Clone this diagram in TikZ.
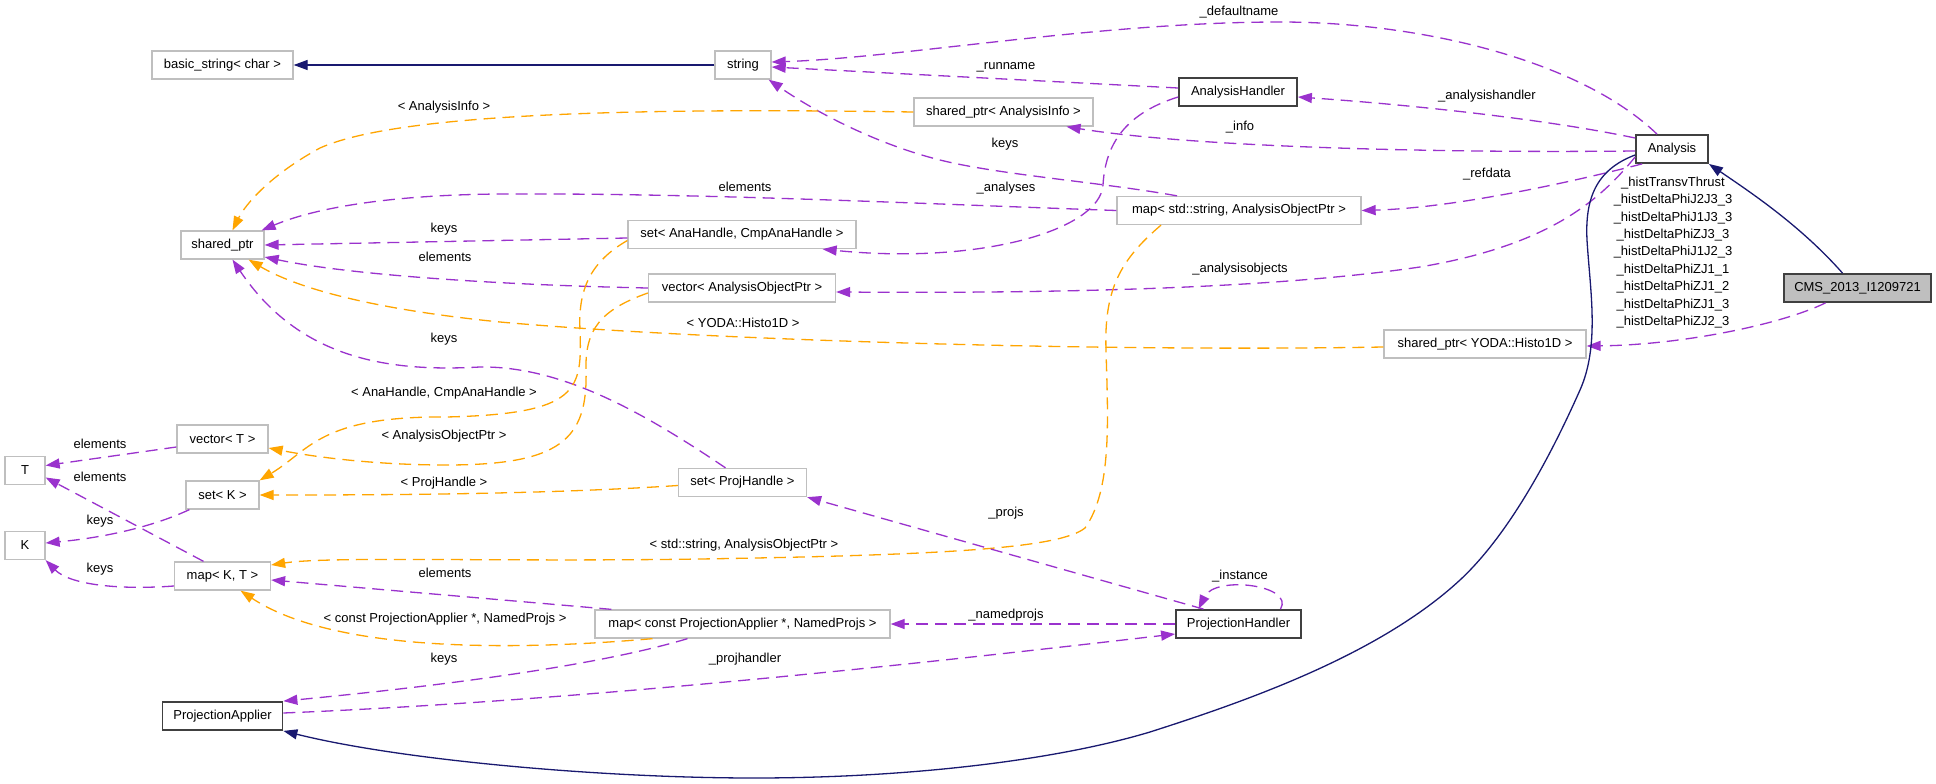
\documentclass[tikz,border=0pt]{standalone}
\usepackage{fontspec}
\setmainfont{Liberation Sans}
\usetikzlibrary{arrows.meta}
\definecolor{purp}{HTML}{9A32CD}
\definecolor{orng}{HTML}{FFA500}
\definecolor{navyb}{HTML}{191970}
\definecolor{lgray}{HTML}{BFBFBF}
\definecolor{dgray}{HTML}{404040}
\begin{document}
\begin{tikzpicture}[x=1pt,y=-1pt,
  box/.style={draw=lgray, line width=1.3pt, minimum height=28pt, inner sep=0pt, fill=white, font=\fontsize{13}{16}\selectfont},
  bbox/.style={box, draw=dgray, line width=1.8pt},
  useedge/.style={draw=purp, line width=1.3pt, dash pattern=on 12pt off 7pt, -{Triangle[length=14pt,width=10pt]}},
  tmpledge/.style={useedge, draw=orng},
  inhedge/.style={draw=navyb, line width=1.3pt, -{Triangle[length=14pt,width=10pt]}},
  lbl/.style={font=\fontsize{13}{17.4}\selectfont, inner sep=0pt, align=center}
]
\fill[white] (0,0) rectangle (1936,784);
\useasboundingbox (0,0) rectangle (1936,784);

% nodes
\node[box, minimum width=141pt] (bstr) at (222.5,65) {basic\_string< char >};
\node[box, minimum width=56pt] (str) at (743,65) {string};
\node[bbox, minimum width=118pt] (ah) at (1238,92) {AnalysisHandler};
\node[box, minimum width=179pt] (spai) at (1003.5,112) {shared\_ptr< AnalysisInfo >};
\node[bbox, minimum width=72pt] (ana) at (1672,149) {Analysis};
\node[box, minimum width=83pt] (sp) at (222.5,245) {shared\_ptr};
\node[box, minimum width=244pt] (mapsa) at (1239,210.5) {map< std::string, AnalysisObjectPtr >};
\node[box, minimum width=228pt] (setana) at (742,234.5) {set< AnaHandle, CmpAnaHandle >};
\node[box, minimum width=187pt] (vecaop) at (742,288) {vector< AnalysisObjectPtr >};
\node[bbox, fill=lgray, minimum width=147pt] (cms) at (1857.5,288) {CMS\_2013\_I1209721};
\node[box, minimum width=202pt] (spyoda) at (1485,344) {shared\_ptr< YODA::Histo1D >};
\node[box, minimum width=91pt] (vect) at (222.5,439) {vector< T >};
\node[box, minimum width=40pt] (t) at (25,470.5) {T};
\node[box, minimum width=73pt] (setk) at (222.5,495) {set< K >};
\node[box, minimum width=128pt] (setph) at (742.5,482.5) {set< ProjHandle >};
\node[box, minimum width=40pt] (k) at (25,545.5) {K};
\node[box, minimum width=96pt] (mapkt) at (222.5,576) {map< K, T >};
\node[box, minimum width=295pt] (mappa) at (742.5,624) {map< const ProjectionApplier *, NamedProjs >};
\node[bbox, minimum width=125pt] (ph) at (1238.5,624) {ProjectionHandler};
\node[bbox, minimum width=120pt] (pa) at (222.5,716) {ProjectionApplier};

% edges
\draw[inhedge] (str.west) -- (bstr.east);
\draw[useedge] ([xshift=-15pt]ana.north) .. controls (1580,60) and (1420,22) .. (1280,22) .. controls (1100,22) and (900,58) .. ([yshift=3pt]str.east);
\draw[useedge] ([yshift=4pt]ah.west) -- ([yshift=-2pt]str.east);
\draw[useedge] ([yshift=11pt]ana.west) .. controls (1540,118) and (1400,104) .. ([yshift=-5pt]ah.east);
\draw[useedge] ([yshift=-2pt]ana.west) .. controls (1450,153) and (1200,148) .. ([xshift=63pt]spai.south);
\draw[useedge] ([xshift=7pt]ana.south west) .. controls (1560,185) and (1450,208) .. (mapsa.east);
\draw[useedge] ([yshift=-8pt]ana.west) .. controls (1600,200) and (1550,245) .. (1420,267) .. controls (1250,292) and (1000,293) .. ([yshift=-4pt]vecaop.east);
\draw[inhedge] ([xshift=-15pt]cms.north) .. controls (1800,225) and (1750,192) .. (ana.south east);
\draw[useedge] ([xshift=-32pt]cms.south) .. controls (1780,325) and (1680,345) .. ([yshift=-2pt]spyoda.east);
\draw[inhedge] ([yshift=-6pt]ana.west) .. controls (1595,170) and (1585,200) .. (1587,240) .. controls (1590,290) and (1600,345) .. (1580,390) .. controls (1560,435) and (1516,528) .. (1460,580) .. controls (1380,654) and (1250,700) .. (1150,732) .. controls (1050,762) and (900,778) .. (754,778) .. controls (600,778) and (400,760) .. (pa.south east);
\draw[useedge] ([xshift=-62pt]mapsa.north) .. controls (1100,182) and (1000,175) .. (940,160) .. controls (880,145) and (820,115) .. ([xshift=-3pt]str.south east);
\draw[useedge] (mapsa.west) .. controls (900,203) and (700,193) .. (500,194) .. controls (380,195) and (310,210) .. ([xshift=-3pt]sp.north east);
\draw[useedge] ([yshift=-5pt]ah.west) .. controls (1120,115) and (1105,150) .. (1103,185) .. controls (1100,230) and (980,265) .. ([xshift=-34pt]setana.south east);
\draw[tmpledge] (spai.west) .. controls (650,108) and (400,112) .. (320,148) .. controls (270,175) and (245,205) .. ([xshift=10pt]sp.north);
\draw[useedge] ([yshift=-3.5pt]setana.west) -- (sp.east);
\draw[useedge] (vecaop.west) .. controls (500,285) and (350,275) .. ([yshift=-12pt]sp.east);
\draw[useedge] ([xshift=-17pt]setph.north) .. controls (640,410) and (560,366) .. (480,367) .. controls (390,372) and (300,360) .. ([xshift=10pt]sp.south);
\draw[tmpledge] ([yshift=-3pt]spyoda.west) .. controls (1100,352) and (700,340) .. (500,322) .. controls (380,310) and (300,290) .. ([xshift=-16pt]sp.south east);
\draw[tmpledge] ([yshift=-6pt]setana.west) .. controls (590,262) and (578,290) .. (580,330) .. controls (582,390) and (580,414) .. (446,417) .. controls (320,416) and (310,450) .. (setk.north east);
\draw[tmpledge] ([yshift=-5pt]vecaop.west) .. controls (600,310) and (585,330) .. (586,370) .. controls (588,440) and (560,465) .. (446,465) .. controls (380,465) and (320,458) .. ([yshift=-9pt]vect.east);
\draw[tmpledge] ([yshift=-3pt]setph.west) .. controls (550,494) and (400,495) .. (setk.east);
\draw[useedge] ([yshift=-8pt]vect.west) -- ([yshift=5pt]t.east);
\draw[useedge] ([xshift=-19pt]mapkt.north) -- ([yshift=-7pt]t.east);
\draw[useedge] ([xshift=4pt]setk.south west) .. controls (150,528) and (100,538) .. ([yshift=2.5pt]k.east);
\draw[useedge] ([yshift=-10pt]mapkt.west) .. controls (120,590) and (70,585) .. (k.south east);
\draw[tmpledge] ([xshift=-78pt]mapsa.south) .. controls (1120,260) and (1104,290) .. (1106,350) .. controls (1108,420) and (1112,490) .. (1085,528) .. controls (1060,548) and (950,555) .. (700,559) .. controls (500,562) and (330,556) .. ([yshift=11pt]mapkt.east);
\draw[useedge] ([xshift=17pt]mappa.north west) -- ([yshift=-4pt]mapkt.east);
\draw[tmpledge] ([xshift=-90pt]mappa.south) .. controls (500,652) and (330,650) .. ([xshift=18pt]mapkt.south);
\draw[useedge] ([xshift=-55pt]mappa.south) .. controls (600,665) and (450,685) .. (pa.north east);
\draw[useedge] ([yshift=3pt]pa.east) .. controls (600,700) and (950,660) .. ([yshift=-10pt]ph.west);
\draw[useedge] (ph.west) -- (mappa.east);
\draw[useedge] ([xshift=-35pt]ph.north) -- (setph.south east);
\draw[useedge] ([xshift=42pt]ph.north) .. controls (1295,585) and (1215,575) .. ([xshift=-40pt]ph.north);

% labels
\node[lbl] (l1) at (1239,12) {\_defaultname};
\node[lbl] (l2) at (1006,67) {\_runname};
\node[lbl] (l3) at (1487,96) {\_analysishandler};
\node[lbl] (l4) at (1240,127) {\_info};
\node[lbl] (l5) at (1487,174) {\_refdata};
\node[lbl] (l6) at (1240,269) {\_analysisobjects};
\node[lbl] (l7) at (1005,144) {keys};
\node[lbl] (l8) at (1006,188) {\_analyses};
\node[lbl] (l9) at (745,187) {elements};
\node[lbl] (l10) at (444,107) {< AnalysisInfo >};
\node[lbl] (l11) at (444,229) {keys};
\node[lbl] (l12) at (445,257) {elements};
\node[lbl] (l13) at (444,339) {keys};
\node[lbl] (l14) at (743,323) {< YODA::Histo1D >};
\node[lbl] (l15) at (444,393) {< AnaHandle, CmpAnaHandle >};
\node[lbl] (l16) at (444,436) {< AnalysisObjectPtr >};
\node[lbl] (l17) at (444,483) {< ProjHandle >};
\node[lbl] (l18) at (744,545) {< std::string, AnalysisObjectPtr >};
\node[lbl] (l19) at (445,573) {elements};
\node[lbl] (l20) at (445,619) {< const ProjectionApplier *, NamedProjs >};
\node[lbl] (l21) at (444,659) {keys};
\node[lbl] (l22) at (745,659) {\_projhandler};
\node[lbl] (l23) at (1006,513) {\_projs};
\node[lbl] (l24) at (1240,576) {\_instance};
\node[lbl] (l25) at (1006,615) {\_namedprojs};
\node[lbl] (l26) at (100,444) {elements};
\node[lbl] (l27) at (100,477) {elements};
\node[lbl] (l28) at (100,521) {keys};
\node[lbl] (l29) at (100,569) {keys};
\node[lbl] (l30) at (1673,252.5) {\_histTransvThrust\\\_histDeltaPhiJ2J3\_3\\\_histDeltaPhiJ1J3\_3\\\_histDeltaPhiZJ3\_3\\\_histDeltaPhiJ1J2\_3\\\_histDeltaPhiZJ1\_1\\\_histDeltaPhiZJ1\_2\\\_histDeltaPhiZJ1\_3\\\_histDeltaPhiZJ2\_3};
\end{tikzpicture}
\end{document}
